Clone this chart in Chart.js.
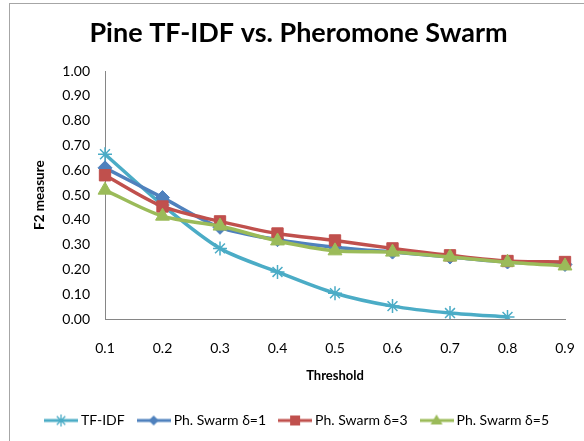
<!DOCTYPE html>
<html>
<head>
<meta charset="utf-8">
<script src="https://cdn.jsdelivr.net/npm/chart.js@4.4.1/dist/chart.umd.min.js"></script>
<style>
  html, body { margin: 0; padding: 0; background: #fff; overflow: hidden; }
  #wrap { position: relative; width: 584px; height: 441px; overflow: hidden; }
  #frame { position: absolute; left: 9px; top: 3px; width: 700px; height: 600px; border: 1px solid #a6a6a6; box-sizing: border-box; }
  canvas { position: absolute; left: 0; top: 0; }
</style>
</head>
<body>
<div id="wrap">
  <div id="frame"></div>
  <canvas id="c" width="584" height="441"></canvas>
</div>
<script>
const thresholds = ['0.1', '0.2', '0.3', '0.4', '0.5', '0.6', '0.7', '0.8', '0.9'];
const yTicks = [0, 0.1, 0.2, 0.3, 0.4, 0.5, 0.6, 0.7, 0.8, 0.9, 1.0];
const seriesNames = ['TF-IDF', 'Ph. Swarm δ=1', 'Ph. Swarm δ=3', 'Ph. Swarm δ=5'];
const tfidf  = [0.665, 0.46, 0.285, 0.19, 0.104, 0.052, 0.024, 0.008];
const swarm1 = [0.61, 0.49, 0.37, 0.32, 0.29, 0.27, 0.25, 0.23, 0.22];
const swarm3 = [0.58, 0.454, 0.394, 0.345, 0.317, 0.285, 0.257, 0.234, 0.23];
const swarm5 = [0.52, 0.415, 0.375, 0.315, 0.275, 0.27, 0.25, 0.229, 0.214];

const colors = ['#4BACC6', '#4F81BD', '#C0504D', '#9BBB59'];
const styles = ['star', 'rectRot', 'rect', 'triangle'];
const radii  = [7, 7, 8, 8];

function legendIcon(i) {
  const cv = document.createElement('canvas');
  cv.width = 34; cv.height = 14;
  const g = cv.getContext('2d');
  const cx = 17, cy = 7;
  g.strokeStyle = colors[i]; g.fillStyle = colors[i];
  g.lineWidth = 3; g.lineCap = 'butt';
  g.beginPath(); g.moveTo(0, cy); g.lineTo(34, cy); g.stroke();
  g.beginPath();
  if (i === 0) {
    g.lineWidth = 1.3;
    const r = 6;
    g.moveTo(cx - r, cy); g.lineTo(cx + r, cy);
    g.moveTo(cx, cy - r); g.lineTo(cx, cy + r);
    const d = r * 0.707;
    g.moveTo(cx - d, cy - d); g.lineTo(cx + d, cy + d);
    g.moveTo(cx - d, cy + d); g.lineTo(cx + d, cy - d);
    g.stroke();
  } else if (i === 1) {
    const r = 5;
    g.moveTo(cx, cy - r); g.lineTo(cx + r, cy); g.lineTo(cx, cy + r); g.lineTo(cx - r, cy); g.closePath(); g.fill();
  } else if (i === 2) {
    g.rect(cx - 5, cy - 5, 10, 10); g.fill();
  } else {
    g.moveTo(cx, cy - 6); g.lineTo(cx + 6, cy + 4); g.lineTo(cx - 6, cy + 4); g.closePath(); g.fill();
  }
  return cv;
}

const allData = [tfidf, swarm1, swarm3, swarm5];
const datasets = allData.map((d, i) => ({
  label: seriesNames[i],
  data: d,
  borderColor: colors[i],
  backgroundColor: colors[i],
  borderWidth: 3.5,
  pointStyle: styles[i],
  pointRadius: radii[i],
  pointHoverRadius: radii[i],
  pointBorderWidth: i === 0 ? 1.5 : 1,
  pointBorderColor: colors[i],
  pointBackgroundColor: i === 0 ? 'rgba(0,0,0,0)' : colors[i],
  tension: 0.3,
  fill: false,
  order: 3 - i
}));

const font = 'Lato, "Open Sans", sans-serif';

new Chart(document.getElementById('c'), {
  type: 'line',
  data: { labels: thresholds, datasets },
  options: {
    responsive: false,
    animation: false,
    events: [],
    layout: { padding: { left: 32, right: 19, top: 0, bottom: 3.5 } },
    plugins: {
      title: {
        display: true,
        text: 'Pine TF-IDF vs. Pheromone Swarm',
        color: '#000',
        font: { family: font, size: 27, weight: 'bold', lineHeight: 1.2 },
        padding: { top: 16.8, bottom: 22 }
      },
      legend: {
        position: 'bottom',
        labels: {
          usePointStyle: true,
          pointStyleWidth: 26,
          padding: 16,
          color: '#000',
          font: { family: font, size: 14 },
          generateLabels: (chart) => chart.data.datasets.map((ds, i) => ({
            text: ds.label,
            pointStyle: legendIcon(i),
            fillStyle: colors[i],
            strokeStyle: colors[i],
            lineWidth: 0,
            hidden: false,
            datasetIndex: i
          }))
        }
      },
      tooltip: { enabled: false }
    },
    scales: {
      x: {
        type: 'category',
        offset: false,
        grid: { display: false, drawTicks: false },
        border: { display: true, color: '#868686', width: 1 },
        ticks: { color: '#000', font: { family: font, size: 14 }, padding: 21, maxRotation: 0, autoSkip: false },
        title: { display: true, text: 'Threshold', color: '#000', font: { family: font, size: 13, weight: 'bold', lineHeight: 1.2 }, padding: { top: 0, bottom: 13.7 } },
        afterFit: (s) => { s.height = 78.5; s.paddingRight = 0; s.paddingLeft = 0; }
      },
      y: {
        min: 0, max: 1,
        afterBuildTicks: (s) => { s.ticks = yTicks.map(v => ({ value: v })); },
        grid: { display: false, drawTicks: false },
        border: { display: true, color: '#868686', width: 1 },
        ticks: { color: '#000', font: { family: font, size: 14 }, padding: 15, callback: (v) => Number(v).toFixed(2) },
        title: { display: true, text: 'F2 measure', color: '#000', font: { family: font, size: 13.5, weight: 'bold', lineHeight: 1.2 }, padding: { top: 0, bottom: 0 } },
        afterFit: (s) => { s.width = 73; }
      }
    }
  }
});
</script>
</body>
</html>
